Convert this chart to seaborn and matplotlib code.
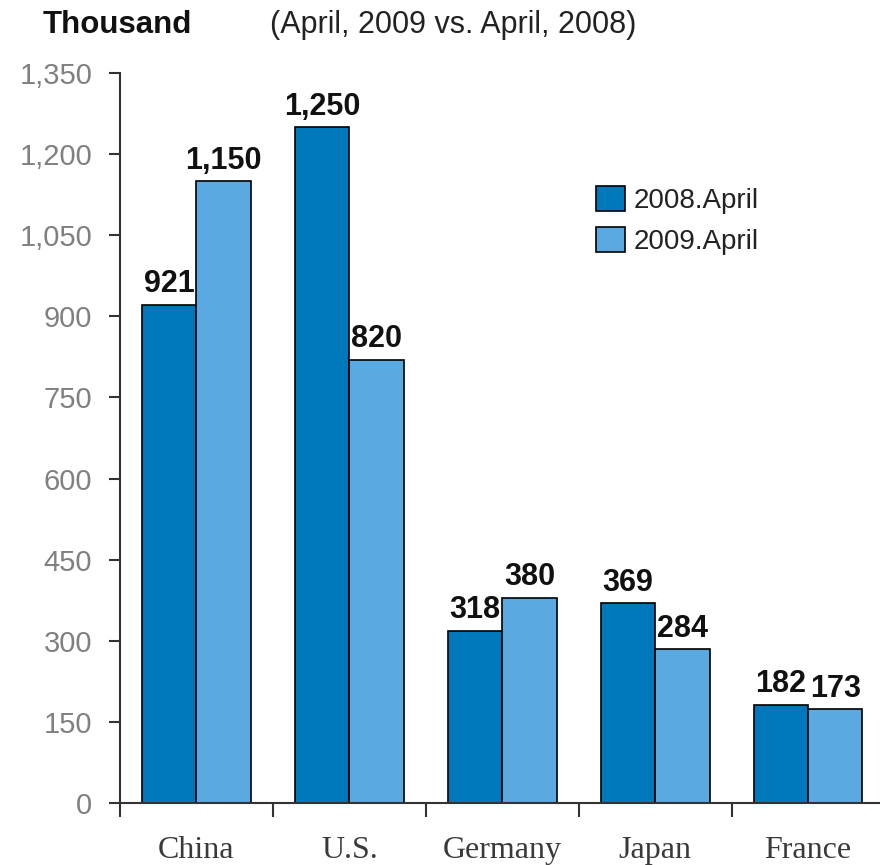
import numpy as np
import pandas as pd
import seaborn as sns
import matplotlib
matplotlib.use("Agg")
import matplotlib.pyplot as plt
from matplotlib.ticker import FixedLocator, FuncFormatter

# ---- data ----
countries = ["China", "U.S.", "Germany", "Japan", "France"]
series = ["2008.April", "2009.April"]
v2008 = [921, 1250, 318, 369, 182]
v2009 = [1150, 820, 380, 284, 173]
yticks = [0, 150, 300, 450, 600, 750, 900, 1050, 1200, 1350]
colors = ["#0079BC", "#5AA9E1"]

sns.set_theme(style="white")
plt.rcParams['font.family'] = ['Liberation Sans', 'DejaVu Sans']

df = pd.DataFrame({
    "country": countries * 2,
    "series": [series[0]] * len(countries) + [series[1]] * len(countries),
    "value": v2008 + v2009,
})

fig = plt.figure(figsize=(8.8, 8.65), dpi=100)
ax = fig.add_axes([0.1364, 0.0717, 0.8636, 0.8439])

sns.barplot(data=df, x="country", y="value", hue="series", palette=colors,
            width=0.71, gap=0, edgecolor="black", linewidth=1.2,
            saturation=1, ax=ax, errorbar=None)

for cont, vals in zip(ax.containers, [v2008, v2009]):
    ax.bar_label(cont, labels=[f"{v:,}" for v in vals], padding=4,
                 fontsize=22, fontweight="bold", color="#111111")

ax.set_ylim(0, 1350)
ax.set_xlim(-0.5, 4.47)
ax.set_xlabel("")
ax.set_ylabel("")

for s in ["top", "right"]:
    ax.spines[s].set_visible(False)
for s in ["left", "bottom"]:
    ax.spines[s].set_color("#333333")
    ax.spines[s].set_linewidth(1.5)

ax.yaxis.set_major_locator(FixedLocator(yticks))
ax.yaxis.set_major_formatter(FuncFormatter(lambda v, p: f"{int(v):,}"))
ax.tick_params(axis="y", which="major", left=True, length=8, width=1.5,
               color="#333333", direction="out", labelsize=21,
               labelcolor="#808080", pad=12)

ax.xaxis.set_minor_locator(FixedLocator([-0.5, 0.5, 1.5, 2.5, 3.5]))
ax.tick_params(axis="x", which="major", bottom=True, length=0, pad=24,
               labelsize=23, labelcolor="#3a3a3a")
ax.tick_params(axis="x", which="minor", bottom=True, length=10, width=1.5,
               color="#333333", direction="out")
for lab in ax.get_xticklabels():
    lab.set_family(['Liberation Serif', 'DejaVu Serif'])

leg = ax.legend(loc="upper left", bbox_to_anchor=(0.612, 0.86), frameon=False,
                fontsize=20, handlelength=1.05, handleheight=1.0,
                labelspacing=0.45, handletextpad=0.3, title=None,
                borderaxespad=0)
for t in leg.get_texts():
    t.set_color("#222222")

fig.text(0.048, 0.962, "Thousand", fontsize=22.5, fontweight="bold",
         color="#111111", va="baseline")
fig.text(0.307, 0.962, "(April, 2009 vs. April, 2008)", fontsize=22,
         color="#222222", va="baseline")

fig.savefig("out.png", dpi=100)
